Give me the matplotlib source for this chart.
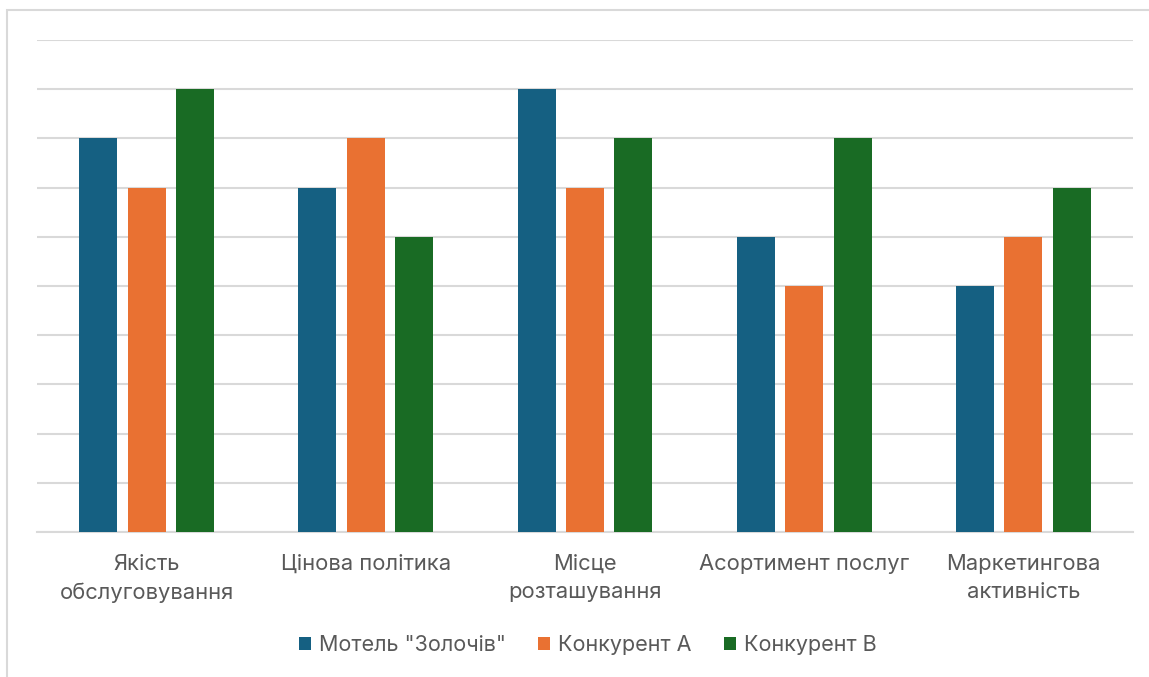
import matplotlib
matplotlib.use("Agg")
import matplotlib.pyplot as plt
import numpy as np
from matplotlib.patches import Rectangle

categories = ["Якість\nобслуговування", "Цінова політика", "Місце\nрозташування",
              "Асортимент послуг", "Маркетингова\nактивність"]
series_names = ['Мотель "Золочів"', "Конкурент А", "Конкурент В"]
motel = [8, 7, 9, 6, 5]
comp_a = [7, 8, 7, 5, 6]
comp_b = [9, 6, 8, 8, 7]
colors = ["#156082", "#E97132", "#196B24"]

plt.rcParams['font.family'] = ['Inter', 'DejaVu Sans']

W, H = 1149, 677
fig = plt.figure(figsize=(W / 100, H / 100), dpi=100)
fig.patch.set_facecolor("white")

# outer chart frame (top and left edges visible)
fig.patches.append(Rectangle((7 / W, -0.05), 1.2, (H - 10) / H + 0.05,
                             transform=fig.transFigure, fill=False,
                             edgecolor="#d9d9d9", linewidth=1.5))

ax = fig.add_axes([37 / W, (H - 532) / H, (1133 - 37) / W, (532 - 40) / H])
x = np.arange(len(categories))
step = 0.221
width = 0.173
for i, (vals, name, c) in enumerate(zip([motel, comp_a, comp_b], series_names, colors)):
    ax.bar(x + (i - 1) * step, vals, width, color=c, label=name, zorder=3)

ax.set_xlim(-0.5, len(categories) - 0.5)
ax.set_ylim(0, 10)
ax.set_yticks(np.arange(0, 11, 1))
ax.yaxis.grid(True, color="#d9d9d9", linewidth=1.5, zorder=0)
ax.tick_params(axis="y", left=False, labelleft=False)
ax.tick_params(axis="x", length=0, pad=16)
ax.set_xticks(x)
ax.set_xticklabels(categories, fontsize=15.8, color="#595959", linespacing=1.5)
for s in ["top", "right", "left"]:
    ax.spines[s].set_visible(False)
ax.spines["bottom"].set_color("#d9d9d9")
ax.spines["bottom"].set_linewidth(1.5)
ax.set_axisbelow(True)

leg = fig.legend(loc="center", bbox_to_anchor=(588 / W, (H - 645) / H), ncol=3,
                 frameon=False, fontsize=15.5, handlelength=0.55, handleheight=0.55,
                 handletextpad=0.38, columnspacing=1.5)
for t in leg.get_texts():
    t.set_color("#595959")

fig.savefig("out.png", dpi=100, facecolor="white")
